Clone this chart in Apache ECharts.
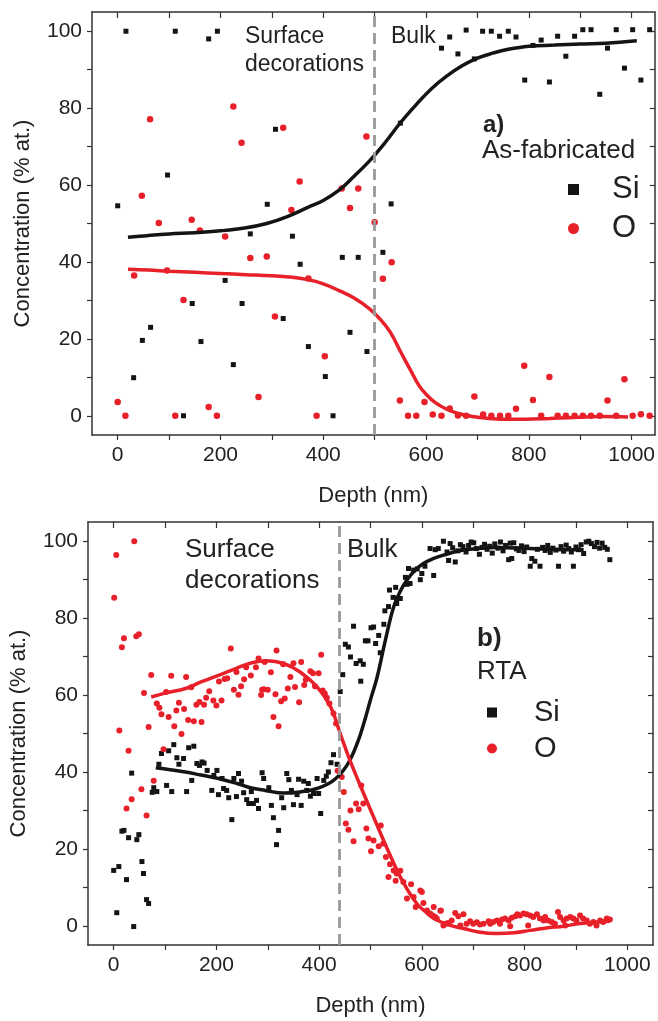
<!DOCTYPE html>
<html>
<head>
<meta charset="utf-8">
<script src="https://cdn.jsdelivr.net/npm/echarts@6/dist/echarts.min.js"></script>
<style>
  html, body { margin: 0; padding: 0; background: #fff; }
  #chart { width: 658px; height: 1021px; }
</style>
</head>
<body>
<div id="chart"></div>
<script>
// ticks / labels
const xTicks = [0, 100, 200, 300, 400, 500, 600, 700, 800, 900, 1000];
const xLabels = [0, 200, 400, 600, 800, 1000];
const yTicks = [0, 10, 20, 30, 40, 50, 60, 70, 80, 90, 100];
const yLabels = [0, 20, 40, 60, 80, 100];

// a) as-fabricated, [depth nm, concentration]
const siA = [[0,54.6],[16,100],[31,9.9],[48,19.6],[64,23],[97,62.6],[112,100],[128,0],[145,29.2],[162,19.3],[177,98],[194,100],[209,35.2],[225,13.3],[242,29.2],[258,47.3],[291,55],[307,74.5],[322,25.3],[340,46.7],[355,39.4],[371,18],[404,10.2],[419,0],[437,41.2],[452,21.7],[468,41.2],[485,16.7],[516,42.5],[532,55.1],[550,76.1],[630,95.6],[646,98.5],[662,94.1],[678,100.3],[694,92.8],[710,100],[727,100],[743,98.7],[760,100],[775,98.5],[792,87.3],[808,96.3],[824,97.7],[840,86.8],[856,98.7],[872,93.5],[889,98.7],[905,100.4],[921,100.4],[938,83.6],[953,95.6],[970,100.4],[986,90.4],[1002,100.4],[1018,87.3],[1035,100.4]];
const oA = [[0,3.6],[15,0],[32,36.5],[47,57.2],[63,77.1],[80,50.1],[96,37.8],[112,0],[128,30.1],[144,51],[160,48.2],[177,2.3],[193,0],[209,46.6],[225,80.4],[241,71],[258,41],[274,4.9],[290,41.4],[306,25.8],[322,74.9],[338,53.5],[354,60.9],[371,35.7],[387,0],[403,15.5],[436,59.1],[452,54],[468,59.1],[484,72.6],[500,50.3],[516,35.6],[533,39.9],[549,4],[565,0],[581,0],[597,3.6],[613,0.3],[630,0],[646,1.9],[662,0.1],[678,0],[694,5],[711,0.3],[727,0],[744,0],[760,0],[775,1.8],[791,13],[808,4.1],[824,0],[840,10.1],[856,0],[872,0],[889,0],[905,0],[921,0],[938,0],[953,4],[970,0],[986,9.5],[1002,0],[1018,0.4],[1035,0]];
const siFitA = [[20,46.4],[60,46.9],[100,47.3],[150,47.6],[200,48.1],[250,48.9],[290,50],[330,51.8],[370,54.2],[400,56],[430,58.6],[460,62.3],[490,66.3],[520,71],[550,76.2],[580,80.8],[610,85],[640,88.3],[670,91],[700,93],[730,94.3],[760,95.3],[800,96.1],[850,96.4],[900,96.7],[950,96.9],[1010,97.5]];
const oFitA = [[20,38.1],[60,37.9],[100,37.6],[150,37.3],[200,37],[250,36.7],[300,36.4],[333,36.1],[370,35.4],[400,34.3],[430,32.6],[460,30.6],[490,27.8],[510,25.2],[530,21.8],[553,16],[570,11.8],[586,7.9],[600,5.6],[618,3.4],[640,1.7],[663,0.6],[690,-0.2],[715,-0.6],[750,-0.9],[793,-0.9],[840,-0.7],[877,-0.5],[940,-0.2],[993,-0.3]];

// b) RTA
const siB = [[0,14.4],[6,3.4],[10,15.4],[16,24.6],[20,24.8],[25,12],[29,22.9],[35,39.7],[39,-0.2],[45,22.4],[49,23.7],[55,16.7],[58,13.6],[64,6.8],[68,5.8],[75,34.7],[78,35.9],[84,34.9],[88,42],[93,44.8],[103,36.5],[107,45.5],[113,34.9],[117,47.1],[123,43.7],[127,42],[136,43.5],[142,34.9],[146,46.3],[152,37.8],[156,46.7],[162,42.2],[167,41.7],[172,42.6],[176,42.3],[182,40.4],[191,35.2],[195,39.1],[201,40.4],[204,34.1],[211,38.3],[214,35.7],[220,35.2],[224,33.3],[230,27.6],[234,38.3],[239,33.6],[243,39.6],[249,37.6],[253,34.6],[259,32.8],[263,31.8],[268,34.9],[272,31.8],[278,32.6],[282,30.5],[289,39.8],[292,38.3],[302,35.9],[307,31.3],[311,28.1],[317,21.1],[321,24.8],[327,33.3],[331,30.7],[337,39.6],[341,38],[346,35.2],[350,31.5],[357,34.1],[360,38.1],[365,31.3],[370,37.6],[376,35.2],[379,37],[383,33.7],[389,34.4],[396,38.3],[399,34.4],[403,29.2],[409,37.8],[414,38.9],[418,40],[423,42.4],[428,44.5],[435,42],[441,60.9],[446,65.3],[451,73.2],[457,72.5],[461,69.9],[467,77.9],[472,68.2],[480,68.9],[481,63.6],[486,68],[490,74.1],[495,74.1],[501,77.5],[506,77.7],[510,73.4],[516,75.5],[519,71],[526,78.4],[528,81.9],[535,83],[537,87.3],[544,85.4],[549,88],[551,83.8],[552,85.1],[558,85.1],[568,90.6],[571,88.8],[574,92.9],[577,89],[584,92.5],[591,92.8],[597,90],[600,91.6],[606,93.5],[616,98.1],[623,91.1],[626,97.8],[632,98.1],[642,100],[649,97.2],[652,95],[655,99.4],[660,98.3],[665,94.6],[670,97.5],[675,99.1],[680,98.6],[686,97.2],[691,98.9],[696,99.8],[701,99.6],[706,98.1],[712,96.6],[717,98.4],[722,99.2],[727,97.9],[732,98.7],[737,96.9],[742,99.3],[748,98.2],[753,99.8],[758,97.5],[763,98.9],[769,95.2],[772,99.5],[775,95.5],[779,99.6],[784,98],[789,97.6],[794,98.8],[799,97.3],[804,98.5],[811,93.5],[814,95.5],[820,94.8],[825,97.9],[830,93.5],[835,98.4],[840,97.6],[845,98.9],[850,97.1],[855,98.2],[861,97.7],[866,93.5],[871,98.6],[876,97.4],[881,99],[886,98.1],[891,97.2],[895,93.5],[900,98.5],[905,97.8],[910,99.1],[915,96.8],[920,99.8],[925,100],[930,99.4],[936,98.6],[941,99.7],[946,98.2],[951,99.5],[956,98.4],[961,97.9],[966,95.2]];
const oB = [[1,85.3],[5,96.4],[11,50.8],[16,72.4],[20,74.8],[25,30.5],[29,45.5],[35,32.9],[40,100],[44,75.3],[49,75.8],[54,35.5],[59,60.5],[64,28.7],[68,51.7],[73,65.2],[78,37.7],[84,57.8],[89,56.7],[93,55],[97,45.9],[102,60.8],[107,54.3],[112,65],[118,51.9],[122,56],[127,58],[132,49.9],[137,56.4],[141,64.7],[145,53.5],[151,62],[156,53.2],[161,57.5],[167,58.2],[171,53],[176,57.5],[180,59.3],[186,61],[194,58.6],[200,57.3],[205,63.5],[210,58.6],[216,64.2],[221,64.4],[228,72.1],[234,61.4],[239,66],[243,60.1],[248,62.3],[254,64.1],[258,67.2],[267,65.1],[277,67.2],[282,69.5],[287,60],[289,61.4],[292,61.5],[294,68.6],[300,61.4],[306,65.9],[311,54.3],[315,60.2],[317,71.6],[321,51.9],[326,58.4],[330,68],[333,59.1],[339,61.7],[344,64.7],[350,68.3],[353,62.1],[361,58.1],[365,68.6],[371,62.6],[374,64],[383,66.2],[388,65.7],[392,62.3],[399,65.7],[404,70.5],[407,61.2],[411,60.4],[415,59.3],[420,57.8],[428,55.2],[433,52.6],[436,40.3],[444,38.7],[448,34.8],[452,26.6],[457,25],[461,30],[467,22],[472,31.8],[477,30.3],[482,36.5],[486,31.8],[492,25.3],[496,22.7],[501,19.4],[506,22.2],[516,20.7],[520,26.1],[525,21.4],[530,17.9],[535,12.7],[538,16],[545,14.4],[549,11.7],[551,13.6],[558,14.3],[564,11.4],[571,7.1],[579,10.8],[584,7.5],[588,4.9],[597,9.2],[600,8.8],[603,5.9],[610,4],[616,3.2],[621,2.7],[623,4.9],[626,2.3],[629,1.9],[636,3.9],[637,4],[642,0.1],[645,0.5],[649,0.6],[652,0.7],[658,1.4],[665,3.3],[671,2.5],[675,0.1],[681,3],[687,0.5],[694,1.2],[700,0.5],[707,0.9],[713,0.3],[720,0.5],[730,1.2],[733,0.5],[739,1],[746,1.4],[752,0.5],[756,1.6],[762,1.9],[769,1.4],[772,-0.1],[775,2.1],[782,2.5],[786,3],[791,2.7],[798,3.2],[804,3],[807,0.1],[811,2.7],[817,2.3],[824,3],[830,1.9],[837,1.4],[840,2.3],[846,1.4],[853,1],[859,0.5],[865,3.6],[869,2.3],[876,1.4],[879,0.1],[882,1.9],[889,2.3],[895,1.9],[901,1.4],[908,2.7],[914,1.9],[921,1.4],[927,0.5],[934,1],[940,0.1],[947,1.4],[953,1],[960,1.9],[966,1.6]];
const siFitB = [[82,41.1],[110,40.6],[140,40],[170,39.2],[204,38.3],[240,37],[266,35.9],[295,35.2],[331,34.5],[363,34.8],[396,35.7],[428,37.8],[454,41.7],[474,47.4],[490,54],[500,58.8],[513,64.7],[529,74.3],[545,82.9],[558,87],[571,89.9],[587,92.5],[603,94.2],[622,95.5],[642,96.4],[681,97.7],[746,98.4],[810,98.1],[875,97.8],[915,97.8]];
const oFitB = [[73,59.5],[100,60.5],[140,61.7],[170,63.4],[204,65.1],[240,67],[269,68.4],[298,68.9],[331,68.2],[363,66],[396,62.1],[422,57],[441,50],[460,43],[486,34.6],[512,26.4],[538,18.4],[564,11.2],[590,5.8],[610,3.3],[623,1.9],[655,0.1],[681,-0.7],[710,-1.6],[746,-2],[780,-1.8],[811,-1.2],[845,-0.5],[876,-0.1],[908,0.6],[966,1.2]];

const FONT = 'Liberation Sans, Arial, sans-serif';
const RED = '#e8202a';
const BLACK = '#141414';

// axes for one panel: bottom + left with labels, top + right as mirror with inward ticks
function xAxes(g, max) {
  const base = {
    gridIndex: g, type: 'value', min: -50, max: max,
    axisLine: { show: true, onZero: false, lineStyle: { color: '#333', width: 1.5 } },
    splitLine: { show: false }
  };
  return [
    Object.assign({}, base, {
      position: 'bottom',
      name: 'Depth (nm)', nameLocation: 'middle', nameGap: 50,
      nameTextStyle: { fontSize: 22, color: '#222', fontFamily: FONT },
      axisTick: { show: true, inside: false, length: 5, customValues: xTicks, lineStyle: { color: '#333', width: 1.2 } },
      axisLabel: {
        show: true, customValues: xLabels, fontSize: 21, color: '#222', margin: 10, fontFamily: FONT,
        formatter: v => String(v)
      }
    }),
    Object.assign({}, base, {
      position: 'top',
      axisTick: { show: true, inside: true, length: 6, customValues: xTicks, lineStyle: { color: '#333', width: 1.2 } },
      axisLabel: { show: false }
    })
  ];
}

function yAxes(g) {
  const base = {
    gridIndex: g, type: 'value', min: -5, max: 105,
    axisLine: { show: true, onZero: false, lineStyle: { color: '#333', width: 1.5 } },
    splitLine: { show: false }
  };
  return [
    Object.assign({}, base, {
      position: 'left',
      name: 'Concentration (% at.)', nameLocation: 'middle', nameGap: 58,
      nameTextStyle: { fontSize: 22, color: '#222', fontFamily: FONT },
      axisTick: { show: true, inside: false, length: 5, customValues: yTicks, lineStyle: { color: '#333', width: 1.2 } },
      axisLabel: {
        show: true, customValues: yLabels, fontSize: 21, color: '#222', margin: 10, fontFamily: FONT,
        formatter: v => String(v)
      }
    }),
    Object.assign({}, base, {
      position: 'right',
      axisTick: { show: true, inside: true, length: 5, customValues: yTicks, lineStyle: { color: '#333', width: 1.2 } },
      axisLabel: { show: false }
    })
  ];
}

function dashLine(x) {
  return {
    silent: true, symbol: 'none', label: { show: false },
    lineStyle: { color: '#999', type: [11, 6], width: 2.8, opacity: 1 },
    data: [{ xAxis: x }]
  };
}

function scatter(name, data, g, sym, size, color, mark) {
  const s = {
    name: name, type: 'scatter', data: data,
    xAxisIndex: g * 2, yAxisIndex: g * 2,
    symbol: sym, symbolSize: size,
    itemStyle: { color: color, opacity: 1 }
  };
  if (mark) s.markLine = mark;
  return s;
}

function fit(name, data, g, color) {
  return {
    name: name, type: 'line', data: data,
    xAxisIndex: g * 2, yAxisIndex: g * 2,
    smooth: 0.4, showSymbol: false,
    lineStyle: { color: color, width: 3.5 },
    itemStyle: { color: color }
  };
}

function txt(x, y, text, size, bold) {
  return {
    type: 'text', x: x, y: y, silent: true,
    style: {
      text: text, fill: '#222', verticalAlign: 'middle',
      font: (bold ? 'bold ' : '') + size + 'px ' + FONT
    }
  };
}

const chart = echarts.init(document.getElementById('chart'), null, { renderer: 'canvas' });

chart.setOption({
  animation: false,
  backgroundColor: '#fff',
  grid: [
    { left: 92, top: 12, width: 564, height: 423 },
    { left: 87, top: 522, width: 566, height: 423 }
  ],
  xAxis: xAxes(0, 1045).concat(xAxes(1, 1050)),
  yAxis: yAxes(0).concat(yAxes(1)),
  legend: [
    {
      left: 563, top: 169, orient: 'vertical', selectedMode: false,
      itemWidth: 11, itemHeight: 11, itemGap: 8,
      data: [{ name: 'Si', icon: 'rect' }, { name: 'O', icon: 'circle' }],
      textStyle: { fontSize: 31, lineHeight: 30, color: '#222', fontFamily: FONT, padding: [0, 0, 0, 28] }
    },
    {
      left: 482, top: 693, orient: 'vertical', selectedMode: false,
      itemWidth: 10, itemHeight: 10, itemGap: 7,
      data: [{ name: 'Si', icon: 'rect' }, { name: 'O', icon: 'circle' }],
      textStyle: { fontSize: 29, lineHeight: 29, color: '#222', fontFamily: FONT, padding: [0, 0, 0, 32] }
    }
  ],
  graphic: [
    txt(245, 37, 'Surface', 23),
    txt(245, 65, 'decorations', 23),
    txt(391, 37, 'Bulk', 23),
    txt(483, 125, 'a)', 24, true),
    txt(482, 151, 'As-fabricated', 26),
    txt(185, 550, 'Surface', 26),
    txt(185, 581, 'decorations', 26),
    txt(347, 550, 'Bulk', 26),
    txt(477, 639, 'b)', 26, true),
    txt(477, 672, 'RTA', 26)
  ],
  series: [
    scatter('Si', siA, 0, 'rect', 5, BLACK, dashLine(500)),
    scatter('O', oA, 0, 'circle', 6.5, RED),
    fit('Si fit a', siFitA, 0, BLACK),
    fit('O fit a', oFitA, 0, RED),
    scatter('Si', siB, 1, 'rect', 5, BLACK, dashLine(440)),
    scatter('O', oB, 1, 'circle', 6, RED),
    fit('Si fit b', siFitB, 1, BLACK),
    fit('O fit b', oFitB, 1, RED)
  ]
});
</script>
</body>
</html>
